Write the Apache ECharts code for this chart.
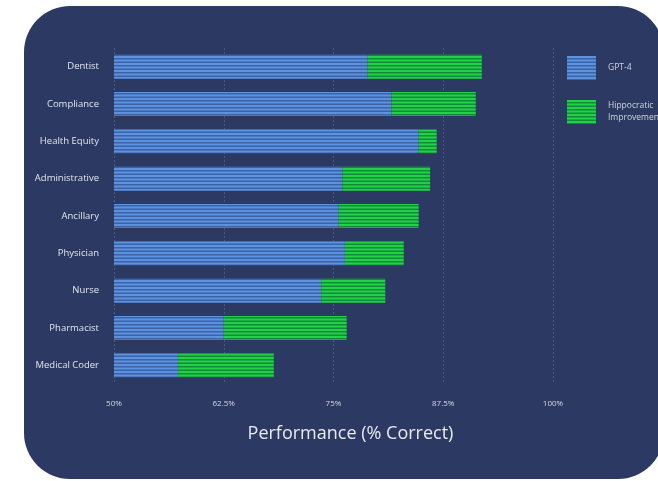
<!DOCTYPE html>
<html>
<head>
<meta charset="utf-8">
<script src="https://cdn.jsdelivr.net/npm/echarts@6/dist/echarts.min.js"></script>
<style>
html,body{margin:0;padding:0;background:#ffffff;}
#chart{width:658px;height:481px;}
</style>
</head>
<body>
<div id="chart"></div>
<script>
const categories = ['Dentist','Compliance','Health Equity','Administrative','Ancillary','Physician','Nurse','Pharmacist','Medical Coder'];
const gpt4 = [78.9, 81.6, 84.7, 76.0, 75.6, 76.3, 73.6, 62.5, 57.3];
const hippocraticTotal = [91.9, 91.2, 86.75, 86.0, 84.7, 83.0, 80.9, 76.5, 68.2];
const xTicks = [50, 62.5, 75, 87.5, 100];
const improvement = hippocraticTotal.map((v, i) => +(v - gpt4[i]).toFixed(2));

function stripe(light, dark) {
  const c = document.createElement('canvas');
  c.width = 4; c.height = 7;
  const ctx = c.getContext('2d');
  ctx.fillStyle = light; ctx.fillRect(0, 0, 4, 7);
  ctx.fillStyle = dark; ctx.fillRect(0, 2, 4, 1.5); ctx.fillRect(0, 5.5, 4, 1.5);
  return { image: c, repeat: 'repeat' };
}
const bluePat = stripe('#5c92de', '#3a63a8');
const greenPat = stripe('#20d247', '#138a38');

const chart = echarts.init(document.getElementById('chart'));
chart.setOption({
  backgroundColor: '#ffffff',
  animation: false,
  graphic: [{
    type: 'rect', z: -10, silent: true,
    shape: { x: 24, y: 6, width: 640, height: 473, r: 46 },
    style: { fill: '#2c3a63' }
  }],
  grid: { left: 114, right: 105, top: 48, bottom: 97, containLabel: false },
  legend: {
    orient: 'vertical', left: 562, top: 51,
    itemWidth: 29, itemHeight: 24, itemGap: 20,
    icon: 'rect',
    textStyle: { color: '#cfd3dc', fontSize: 8.5, fontFamily: 'Open Sans', lineHeight: 12, padding: [0, 0, 0, 7] },
    data: ['GPT-4', 'Hippocratic\nImprovement']
  },
  xAxis: {
    type: 'value', min: 50, max: 100, interval: 12.5,
    name: 'Performance (% Correct)', nameLocation: 'middle', nameGap: 41,
    nameTextStyle: { color: '#e8eaf0', fontSize: 18, fontFamily: 'Open Sans', padding: [0, 0, 0, 34] },
    axisLine: { show: false }, axisTick: { show: false },
    axisLabel: {
      color: '#d6d9e0', fontSize: 8, fontFamily: 'Open Sans', margin: 16,
      formatter: v => xTicks.includes(v) ? v + '%' : ''
    },
    splitLine: { show: true, lineStyle: { color: 'rgba(160,170,200,0.28)', type: [2, 2], width: 1 } }
  },
  yAxis: {
    type: 'category', data: categories, inverse: true,
    axisLine: { show: false }, axisTick: { show: false },
    axisLabel: { color: '#e2e5ec', fontSize: 9.5, fontFamily: 'Open Sans', margin: 15 }
  },
  series: [
    { name: 'GPT-4', type: 'bar', stack: 'a', data: gpt4, barWidth: 24,
      itemStyle: { color: bluePat } },
    { name: 'Hippocratic\nImprovement', type: 'bar', stack: 'a', data: improvement, barWidth: 24,
      itemStyle: { color: greenPat } }
  ]
});
</script>
</body>
</html>
